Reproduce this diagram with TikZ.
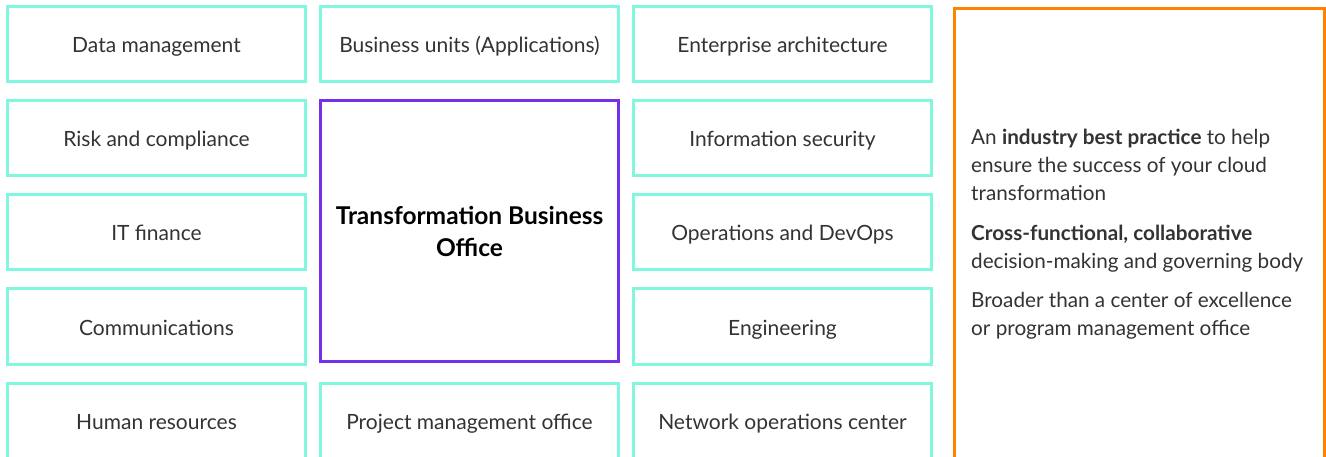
\documentclass[tikz,border=0pt]{standalone}
\usepackage{fontspec}
\setmainfont{Lato}
\usetikzlibrary{positioning}
\definecolor{aqua}{HTML}{82F7E0}
\definecolor{tbopurple}{HTML}{7630EA}
\definecolor{hpeorange}{HTML}{FF8300}
\definecolor{txtgray}{HTML}{333333}

\begin{document}
\begin{tikzpicture}[x=1pt,y=-1pt,
    unit/.style={
% The shape:
rectangle,
% The size:
minimum width=298pt,
minimum height=75pt,
% The border:
line width=3pt, draw=aqua,
% The text:
text=txtgray, font=\fontsize{21}{25}\selectfont,
text height=17pt, text depth=0pt,
},
    office/.style={
% The shape:
rectangle,
% The size:
minimum width=298pt,
minimum height=260pt,
% The border:
line width=3pt, draw=tbopurple,
% The text:
align=center, font=\fontsize{24.5}{32}\selectfont\bfseries,
},
    panel/.style={
% The shape:
rectangle,
% The size:
minimum width=370pt,
minimum height=480pt,
% The border:
line width=3pt, draw=hpeorange,
},
]
  \useasboundingbox (0,0) rectangle (1326,457);
  \clip (0,0) rectangle (1326,457);
  \fill[white] (0,0) rectangle (1326,457);

  \node[unit] (dm)   at (156.5, 44.5) {Data management};
  \node[unit] (bu)   at (469.5, 44.5) {Business units (Applications)};
  \node[unit] (ea)   at (782.5, 44.5) {Enterprise architecture};
  \node[unit] (rc)   at (156.5,138.5) {Risk and compliance};
  \node[unit] (is)   at (782.5,138.5) {Information security};
  \node[unit] (itf)  at (156.5,232.5) {IT finance};
  \node[unit] (ops)  at (782.5,232.5) {Operations and DevOps};
  \node[unit] (comm) at (156.5,326.5) {Communications};
  \node[unit] (eng)  at (782.5,326.5) {Engineering};
  \node[unit] (hr)   at (156.5,420.5) {Human resources};
  \node[unit] (pmo)  at (469.5,420.5) {Project management office};
  \node[unit] (noc)  at (782.5,420.5) {Network operations center};
  \node[office] (tbo) at (469.5,231) {Transformation Business\\Office};

  \node[panel] (pnl) at (1139.5,248.5) {};
  \node[anchor=north west, align=left, text=txtgray,
        font=\fontsize{20.7}{28}\selectfont, inner sep=0pt]
    (why) at (971,129) {An \textbf{industry best practice} to help\\
    ensure the success of your cloud\\
    transformation\\[11.5pt]
    \textbf{Cross-functional, collaborative}\\
    decision-making and governing body\\[11pt]
    Broader than a center of excellence\\
    or program management office};

\end{tikzpicture}
\end{document}
